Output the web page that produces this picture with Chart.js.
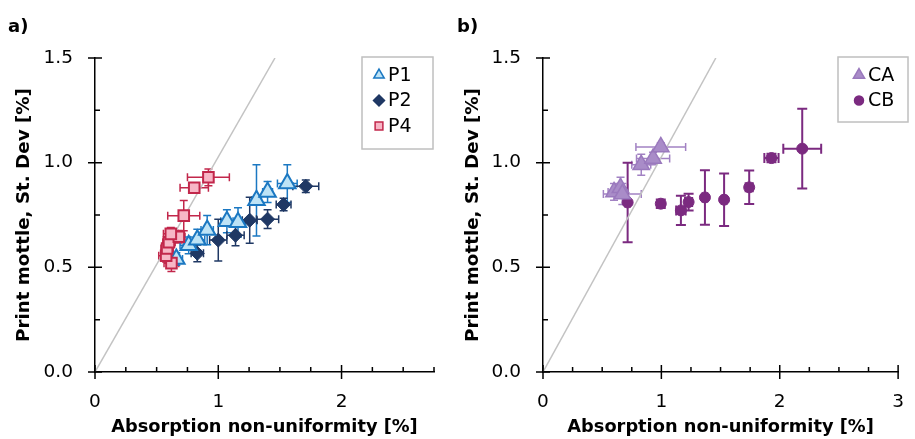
<!DOCTYPE html>
<html>
<head>
<meta charset="utf-8">
<script src="https://cdn.jsdelivr.net/npm/chart.js@4.4.0/dist/chart.umd.min.js"></script>
<style>
  html, body { margin: 0; padding: 0; background: #fff; overflow: hidden; width: 915px; height: 439px; }
  .panel { position: absolute; top: 0; height: 439px; }
  #wrapA { left: 0; width: 457px; }
  #wrapB { left: 448px; width: 475px; }
</style>
</head>
<body>
<div class="panel" id="wrapA"><canvas id="chartA" width="457" height="439"></canvas></div>
<div class="panel" id="wrapB"><canvas id="chartB" width="475" height="439"></canvas></div>
<script>
/* ---------- texts & ticks ---------- */
const xTitle = "Absorption non-uniformity [%]";
const yTitle = "Print mottle, St. Dev [%]";
const yTicks  = [0, 0.5, 1.0, 1.5];
const xTicksA = [0, 1, 2];
const xTicksB = [0, 1, 2, 3];
const minorStep = 0.25;

// 1:1-ish guide line
const refX = [0, 1.46];
const refY = [0, 1.5];

/* ---------- panel a ---------- */
const p1X    = [0.66, 0.76, 0.83, 0.91, 1.07, 1.16, 1.31, 1.40, 1.56];
const p1Y    = [0.54, 0.605, 0.632, 0.678, 0.72, 0.715, 0.82, 0.86, 0.90];
const p1XErr = [0.05, 0.07, 0.06, 0.05, 0.05, 0.06, 0.04, 0.04, 0.08];
const p1YErr = [0.03, 0.04, 0.05, 0.07, 0.055, 0.07, 0.17, 0.05, 0.09];

const p2X    = [0.83, 1.00, 1.14, 1.255, 1.40, 1.53, 1.71];
const p2Y    = [0.567, 0.63, 0.653, 0.725, 0.73, 0.80, 0.887];
const p2XErr = [0.05, 0.07, 0.07, 0.06, 0.09, 0.06, 0.105];
const p2YErr = [0.04, 0.10, 0.05, 0.11, 0.045, 0.03, 0.03];

const p4X    = [0.62, 0.577, 0.585, 0.60, 0.68, 0.615, 0.72, 0.805, 0.92];
const p4Y    = [0.52, 0.555, 0.59, 0.62, 0.646, 0.66, 0.747, 0.88, 0.93];
const p4XErr = [0.06, 0.06, 0.05, 0.05, 0.05, 0.06, 0.13, 0.115, 0.17];
const p4YErr = [0.04, 0.03, 0.03, 0.04, 0.03, 0.03, 0.072, 0.02, 0.04];

/* ---------- panel b ---------- */
const caX    = [0.60, 0.655, 0.67, 0.83, 0.93, 0.995];
const caY    = [0.86, 0.88, 0.85, 0.99, 1.02, 1.075];
const caXErr = [0.05, 0.06, 0.16, 0.08, 0.14, 0.21];
const caYErr = [0.04, 0.05, 0.05, 0.05, 0.03, 0.02];

const cbX    = [0.715, 0.995, 1.165, 1.23, 1.368, 1.53, 1.742, 1.93, 2.19];
const cbY    = [0.81, 0.804, 0.772, 0.812, 0.834, 0.823, 0.882, 1.022, 1.067];
const cbXErr = [0.02, 0.03, 0.04, 0.03, 0.02, 0.02, 0.03, 0.06, 0.16];
const cbYErr = [0.19, 0.02, 0.07, 0.04, 0.13, 0.125, 0.08, 0.02, 0.19];

const pts = (xs, ys) => xs.map((x, i) => ({ x, y: ys[i] }));

Chart.defaults.font.family = "'DejaVu Sans', sans-serif";
Chart.defaults.color = "#000";

/* ----------------------------------------------------------
   plugins: error bars, axis tick marks, boxed legend, tag
---------------------------------------------------------- */
const errorBars = {
  id: "errorBars",
  beforeDatasetsDraw(chart) {
    const { ctx, scales: { x, y } } = chart;
    chart.data.datasets.forEach(ds => {
      if (!ds.xErr) return;
      const c = ds.capSize;
      ctx.save();
      ctx.strokeStyle = ds.errColor;
      ctx.lineWidth = ds.errWidth;
      ds.data.forEach((p, i) => {
        const px = x.getPixelForValue(p.x), py = y.getPixelForValue(p.y);
        const x0 = x.getPixelForValue(p.x - ds.xErr[i]), x1 = x.getPixelForValue(p.x + ds.xErr[i]);
        const y0 = y.getPixelForValue(p.y - ds.yErr[i]), y1 = y.getPixelForValue(p.y + ds.yErr[i]);
        ctx.beginPath();
        ctx.moveTo(x0, py); ctx.lineTo(x1, py);
        ctx.moveTo(x0, py - c); ctx.lineTo(x0, py + c);
        ctx.moveTo(x1, py - c); ctx.lineTo(x1, py + c);
        ctx.moveTo(px, y0); ctx.lineTo(px, y1);
        ctx.moveTo(px - c, y0); ctx.lineTo(px + c, y0);
        ctx.moveTo(px - c, y1); ctx.lineTo(px + c, y1);
        ctx.stroke();
      });
      ctx.restore();
    });
  }
};

const axisTicks = {
  id: "axisTicks",
  afterDraw(chart) {
    const { ctx, chartArea: a, scales: { x, y } } = chart;
    const isMajor = (s, v) => s.ticks.some(t => Math.abs(t.value - v) < 1e-6);
    ctx.save();
    ctx.strokeStyle = "#000";
    ctx.lineWidth = 1.5;
    ctx.beginPath();
    for (let v = x.min; v <= x.max + 1e-6; v += minorStep) {
      const px = x.getPixelForValue(v), m = isMajor(x, v);
      ctx.moveTo(px, a.bottom + (m ? 7 : 0));
      ctx.lineTo(px, a.bottom - (m ? 7 : 5));
    }
    for (let v = y.min; v <= y.max + 1e-6; v += minorStep) {
      const py = y.getPixelForValue(v), m = isMajor(y, v);
      ctx.moveTo(a.left - (m ? 7 : 0), py);
      ctx.lineTo(a.left + (m ? 7 : 5), py);
    }
    ctx.stroke();
    ctx.restore();
  }
};

const boxLegend = {
  id: "boxLegend",
  afterDraw(chart, args, o) {
    if (!o || !o.rows) return;
    const ctx = chart.ctx;
    ctx.save();
    ctx.strokeStyle = "#bfbfbf";
    ctx.lineWidth = 1.5;
    ctx.strokeRect(o.x, o.y, o.w, o.h);
    ctx.font = "19px 'DejaVu Sans'";
    ctx.textBaseline = "middle";
    o.rows.forEach((r, i) => {
      const ds = chart.data.datasets[r.ds];
      const cy = o.y + o.first + i * o.step;
      ctx.fillStyle = ds.backgroundColor;
      ctx.strokeStyle = ds.borderColor;
      ctx.lineWidth = 1.5;
      Chart.helpers.drawPoint(ctx, { pointStyle: ds.pointStyle, radius: r.r, rotation: 0, borderWidth: 1.5 }, o.mx, cy);
      ctx.fillStyle = "#000";
      ctx.fillText(ds.label, o.tx, cy + 1);
    });
    ctx.restore();
  }
};

const panelTag = {
  id: "panelTag",
  afterDraw(chart, args, o) {
    const ctx = chart.ctx;
    ctx.save();
    ctx.font = "bold 18px 'DejaVu Sans'";
    ctx.fillStyle = "#000";
    ctx.textBaseline = "alphabetic";
    ctx.fillText(o.text, o.x, o.y);
    ctx.restore();
  }
};

function scatterSet(label, xs, ys, xe, ye, style) {
  return Object.assign({ label, data: pts(xs, ys), xErr: xe, yErr: ye }, style);
}

function guideSet() {
  return {
    label: "guide", type: "line", data: pts(refX, refY), showLine: true,
    borderColor: "#c3c3c3", borderWidth: 1.5, pointRadius: 0, fill: false
  };
}

function makePanel(id, o) {
  return new Chart(document.getElementById(id), {
    type: "scatter",
    data: { datasets: o.datasets },
    options: {
      responsive: false,
      animation: false,
      devicePixelRatio: 1,
      events: [],
      layout: { padding: { left: 0, top: 58, right: o.padRight, bottom: 0 } },
      plugins: {
        legend: { display: false },
        tooltip: { enabled: false },
        boxLegend: o.legend,
        panelTag: o.tag
      },
      scales: {
        x: {
          type: "linear", min: 0, max: o.xMax,
          afterBuildTicks: s => { s.ticks = o.xTicks.map(v => ({ value: v })); },
          afterFit: s => { s.height = 67; },
          grid: { display: false, drawTicks: false },
          border: { color: "#000", width: 1.5 },
          ticks: { padding: 19, font: { size: 18.5 }, callback: v => String(v) },
          title: { display: true, text: xTitle, font: { size: 17.8, weight: "bold" }, padding: { top: 0, bottom: 1 } }
        },
        y: {
          type: "linear", min: 0, max: 1.5,
          afterBuildTicks: s => { s.ticks = yTicks.map(v => ({ value: v })); },
          afterFit: s => { s.width = 95; },
          grid: { display: false, drawTicks: false },
          border: { color: "#000", width: 1.5 },
          ticks: { padding: 22, font: { size: 18.5 }, callback: v => Number(v).toFixed(1) },
          title: { display: true, text: yTitle, font: { size: 18.3, weight: "bold" }, padding: { top: o.yTitlePad, bottom: 0 } }
        }
      }
    },
    plugins: [errorBars, axisTicks, boxLegend, panelTag]
  });
}

/* ---------- panel a ---------- */
makePanel("chartA", {
  xMax: 2.75, xTicks: xTicksA, padRight: 23, yTitlePad: 13,
  tag: { text: "a)", x: 8, y: 32 },
  legend: { x: 362, y: 57, w: 71, h: 92, first: 18, step: 25.5, mx: 379, tx: 388,
            rows: [{ ds: 1, r: 6 }, { ds: 2, r: 5.5 }, { ds: 0, r: 5.5 }] },
  datasets: [
    scatterSet("P4", p4X, p4Y, p4XErr, p4YErr, {
      pointStyle: "rect", pointRadius: 7.5, backgroundColor: "#f7b6c6", borderColor: "#c2274b",
      borderWidth: 2, errColor: "#c2274b", errWidth: 1.5, capSize: 4 }),
    scatterSet("P1", p1X, p1Y, p1XErr, p1YErr, {
      pointStyle: "triangle", pointRadius: 9.5, backgroundColor: "#bde3f6", borderColor: "#1b78c2",
      borderWidth: 2, errColor: "#1b78c2", errWidth: 1.5, capSize: 4 }),
    scatterSet("P2", p2X, p2Y, p2XErr, p2YErr, {
      pointStyle: "rectRot", pointRadius: 7, backgroundColor: "#1f3864", borderColor: "#1f3864",
      borderWidth: 1, errColor: "#1f3864", errWidth: 1.5, capSize: 4 }),
    guideSet()
  ]
});

/* ---------- panel b ---------- */
makePanel("chartB", {
  xMax: 3, xTicks: xTicksB, padRight: 11.3, yTitlePad: 14.5,
  tag: { text: "b)", x: 9, y: 32 },
  legend: { x: 390, y: 57, w: 70, h: 65, first: 18, step: 25.5, mx: 411, tx: 420,
            rows: [{ ds: 0, r: 6.5 }, { ds: 1, r: 4.5 }] },
  datasets: [
    scatterSet("CA", caX, caY, caXErr, caYErr, {
      pointStyle: "triangle", pointRadius: 9.5, backgroundColor: "#a98cc8", borderColor: "#9a79bd",
      borderWidth: 1.5, errColor: "#a282c3", errWidth: 1.5, capSize: 4 }),
    scatterSet("CB", cbX, cbY, cbXErr, cbYErr, {
      pointStyle: "circle", pointRadius: 5.5, backgroundColor: "#7b2a80", borderColor: "#7b2a80",
      borderWidth: 1, errColor: "#7b2a80", errWidth: 2, capSize: 5 }),
    guideSet()
  ]
});
</script>
</body>
</html>
